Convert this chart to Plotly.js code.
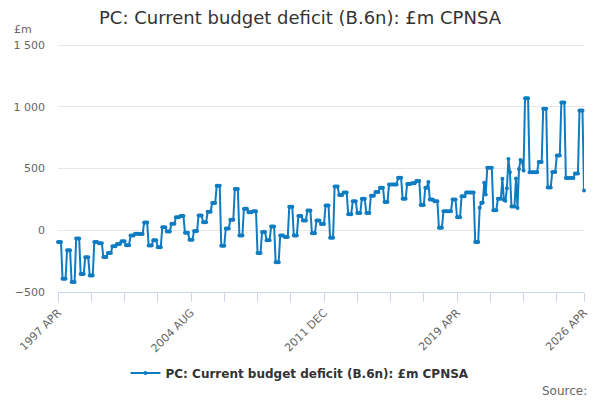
<!DOCTYPE html>
<html>
<head>
<meta charset="utf-8">
<script src="https://cdn.plot.ly/plotly-3.0.1.min.js"></script>
<style>
  html, body { margin: 0; padding: 0; background: #fff; }
  #chart { width: 600px; height: 400px; }
</style>
</head>
<body>
<div id="chart"></div>
<script>
var monthNames = ["JAN", "FEB", "MAR", "APR", "MAY", "JUN", "JUL", "AUG", "SEP", "OCT", "NOV", "DEC"];
var startYear = 1997;
var startMonth = 3; // APR

// £m, one row per year from APR to MAR
var deficit = [
  -95, -95, -95, -393, -393, -393, -162, -162, -162, -420, -420, -420,
  -67, -67, -67, -355, -355, -355, -219, -219, -219, -366, -366, -366,
  -95, -95, -95, -105, -105, -105, -216, -216, -216, -184, -184, -184,
  -130, -130, -130, -111, -111, -111, -89, -89, -89, -122, -122, -122,
  -43, -43, -43, -28, -28, -28, -30, -30, -30, 62, 62, 62,
  -124, -124, -124, -80, -80, -80, -138, -138, -138, 25, 25, 25,
  -10, -10, -10, 52, 52, 52, 105, 105, 105, 115, 115, 115,
  -20, -20, -20, -76, -76, -76, -5, -5, -5, 120, 120, 120,
  65, 65, 65, 150, 150, 150, 220, 220, 220, 360, 360, 360,
  -125, -125, -125, 15, 15, 15, 85, 85, 85, 335, 335, 335,
  -43, -43, -43, 175, 175, 175, 145, 145, 145, 155, 155, 155,
  -184, -184, -184, -15, -15, -15, -81, -81, -81, 30, 30, 30,
  -260, -260, -260, -43, -43, -43, -54, -54, -54, 190, 190, 190,
  -43, -43, -43, 115, 115, 115, 80, 80, 80, 160, 160, 160,
  -25, -25, -25, 80, 80, 80, 50, 50, 50, 200, 200, 200,
  -60, -60, -60, 355, 355, 355, 285, 285, 285, 305, 305, 305,
  130, 130, 130, 235, 235, 235, 140, 140, 140, 255, 255, 255,
  140, 140, 140, 280, 280, 280, 310, 310, 310, 345, 345, 345,
  230, 230, 230, 370, 370, 370, 370, 370, 370, 425, 425, 425,
  255, 255, 255, 375, 375, 375, 380, 380, 380, 400, 400, 400,
  205, 205, 205, 345, 345, 390, 250, 250, 250, 235, 235, 235,
  20, 20, 20, 155, 155, 155, 155, 155, 155, 250, 250, 250,
  105, 105, 105, 275, 275, 275, 305, 305, 305, 305, 305, 305,
  -95, -95, -95, 182, 223, 223, 385, 290, 507, 507, 507, 507,
  163, 163, 163, 255, 255, 255, 418, 245, 240, 340, 577, 470,
  193, 193, 193, 420, 180, 497, 570, 560, 485, 1070, 1070, 1070,
  470, 470, 470, 470, 470, 470, 553, 553, 553, 985, 985, 985,
  347, 347, 347, 472, 472, 472, 605, 605, 605, 1035, 1035, 1035,
  423, 423, 423, 423, 423, 423, 459, 459, 459, 970, 970, 970,
  323
];

var tickLabels = ["1997 APR", "2004 AUG", "2011 DEC", "2019 APR", "2026 APR"];
var seriesName = "PC: Current budget deficit (B.6n): £m CPNSA";

var months = deficit.map(function (v, i) {
  var m = startMonth + i;
  return (startYear + Math.floor(m / 12)) + " " + monthNames[m % 12];
});

var tickVals = months.filter(function (m, i) {
  return i % 22 === 0 || i === months.length - 1;
});
var tickText = tickVals.map(function (m) {
  return tickLabels.indexOf(m) >= 0 ? m : "";
});

var trace = {
  x: months,
  y: deficit,
  name: "<b>" + seriesName + "</b>",
  type: "scatter",
  mode: "lines+markers",
  line: { color: "#0f7cc1", width: 2 },
  marker: { color: "#0f7cc1", size: 4 },
  cliponaxis: false,
  showlegend: true
};

var layout = {
  width: 600,
  height: 400,
  margin: { l: 58, r: 16, t: 42, b: 108 },
  paper_bgcolor: "#fff",
  plot_bgcolor: "#fff",
  font: { family: "DejaVu Sans", color: "#666" },
  separators: ". ",
  title: {
    text: seriesName,
    font: { size: 18, color: "#333" },
    x: 0.5,
    xanchor: "center",
    y: 0.955,
    yanchor: "middle"
  },
  xaxis: {
    type: "category",
    range: [0, months.length - 1],
    tickmode: "array",
    tickvals: tickVals,
    ticktext: tickText,
    ticks: "outside",
    ticklen: 9,
    tickcolor: "#ccd6eb",
    tickangle: -45,
    tickfont: { size: 11, color: "#666" },
    showgrid: false,
    showline: true,
    linecolor: "#ccd6eb",
    linewidth: 1,
    zeroline: false
  },
  yaxis: {
    range: [-500, 1525],
    tick0: 0,
    dtick: 500,
    separatethousands: true,
    gridcolor: "#e6e6e6",
    zeroline: false,
    showline: false,
    ticklabelstandoff: 12,
    tickfont: { size: 11, color: "#666" }
  },
  legend: {
    orientation: "h",
    xref: "container",
    yref: "container",
    x: 0.5,
    xanchor: "center",
    y: 0.0675,
    yanchor: "middle",
    font: { size: 12, color: "#333" }
  },
  annotations: [
    {
      text: "£m",
      xref: "paper",
      yref: "paper",
      x: -0.087,
      xanchor: "left",
      y: 1.05,
      yanchor: "middle",
      showarrow: false,
      font: { size: 11, color: "#666" }
    },
    {
      text: "Source:",
      xref: "paper",
      yref: "paper",
      x: 1.01,
      xanchor: "right",
      y: -0.395,
      yanchor: "middle",
      showarrow: false,
      font: { size: 12, color: "#666" }
    }
  ]
};

var config = { displayModeBar: false, staticPlot: true };

Plotly.newPlot("chart", [trace], layout, config);
</script>
</body>
</html>
